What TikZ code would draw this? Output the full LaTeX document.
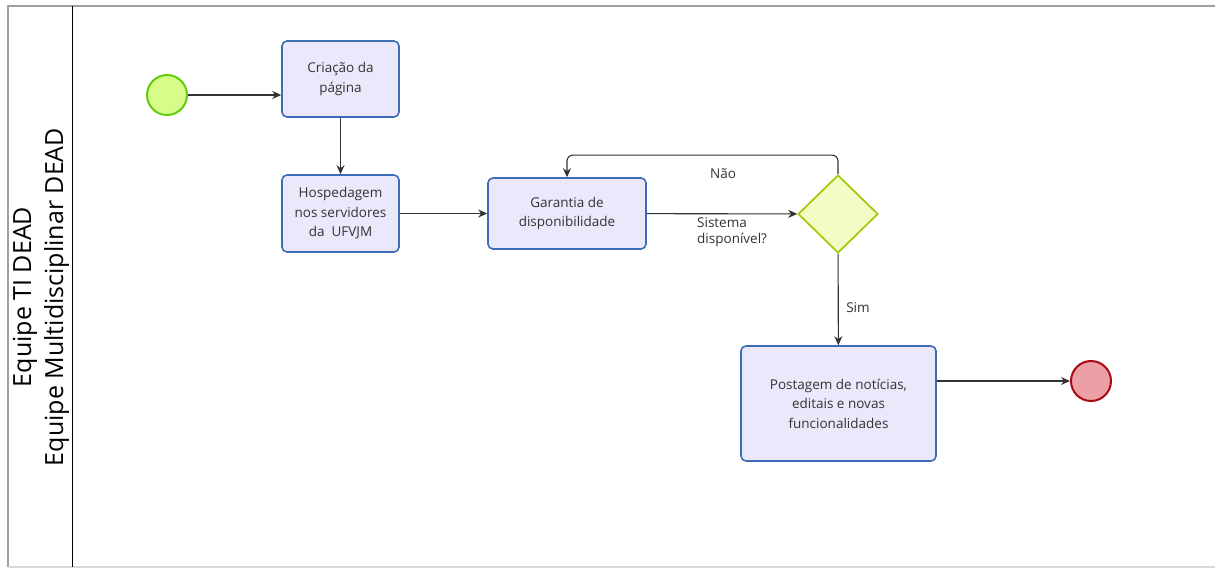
\documentclass[tikz,border=0pt]{standalone}
\usepackage{fontspec}
\setmainfont{Open Sans}
\usetikzlibrary{arrows.meta, shapes.geometric}

\definecolor{taskfill}{HTML}{ECE8FC}
\definecolor{taskline}{HTML}{3D6DB5}
\definecolor{startfill}{HTML}{D8FC8A}
\definecolor{startline}{HTML}{66CC11}
\definecolor{endfill}{HTML}{EBA0A6}
\definecolor{endline}{HTML}{AA0A14}
\definecolor{gatefill}{HTML}{F2FCC4}
\definecolor{gateline}{HTML}{A2CC10}
\definecolor{flowline}{HTML}{333333}
\definecolor{framegray}{HTML}{A0A0A0}

\begin{document}
\begin{tikzpicture}[
		x=1pt, y=-1pt,
		task/.style={draw=taskline, fill=taskfill, line width=1.6pt, rounded corners=5pt,
			align=center, inner sep=2pt, text=black!80,
			font=\fontsize{13.5}{19.5}\selectfont},
		event/.style={circle, minimum size=40pt, inner sep=0pt, line width=2pt},
		gate/.style={diamond, draw=gateline, fill=gatefill, line width=1.8pt,
			minimum width=80pt, minimum height=78pt, inner sep=0pt},
		flow/.style={draw=flowline, line width=1.1pt, -{Stealth[length=9pt,width=8pt]}},
		flowlabel/.style={text=black!80, font=\fontsize{13.5}{16.5}\selectfont, inner sep=0pt}]

	% frame and lane
	\useasboundingbox (0,0) rectangle (1215,570);
	\draw[framegray, line width=1.5pt] (1215,6) -- (8,6) -- (8,567);
	\draw[black!15, line width=1.5pt] (8,567) -- (1215,567);
	\draw[black, line width=1pt] (72,6) -- (72,567);
	\node[rotate=90, align=center, font=\fontsize{25}{32}\selectfont] (lane) at (41,297)
	{Equipe TI DEAD\\Equipe Multidisciplinar DEAD};

	% events
	\node[event, draw=startline, fill=startfill] (start) at (167,95) {};
	\node[event, draw=endline, fill=endfill] (end) at (1091,381) {};

	% tasks
	\node[task, minimum width=117pt, minimum height=76pt] (crea) at (340.5,79) {Criação da\\página};
	\node[task, minimum width=117pt, minimum height=77pt] (host) at (340.5,213.5) {Hospedagem\\nos servidores\\da~ UFVJM};
	\node[task, minimum width=158pt, minimum height=71pt] (gar) at (567,213.5) {Garantia de\\disponibilidade};
	\node[gate] (gate) at (838,214) {};
	\node[task, minimum width=195pt, minimum height=115pt] (post) at (838.5,403.5) {Postagem de notícias,\\editais e novas\\funcionalidades};

	% labels
	\node[flowlabel] (lblno) at (723,174) {Não};
	\node[flowlabel, align=left, anchor=west] (lblq) at (697,232) {Sistema\\disponível?};
	\node[flowlabel] (lblyes) at (858,308) {Sim};

	% flows
	\draw[flow] (start) -- (start -| crea.west);
	\draw[flow] (crea) -- (host);
	\draw[flow] (host.east |- gar) -- (gar);
	\draw[flow] (gar) -- (gate);
	\draw[flow, rounded corners=6pt] (gate.north) -- ++(0,-19) -| (gar.north);
	\draw[flow] (gate) -- (post);
	\draw[flow] (post.east |- end) -- (end);
\end{tikzpicture}
\end{document}
